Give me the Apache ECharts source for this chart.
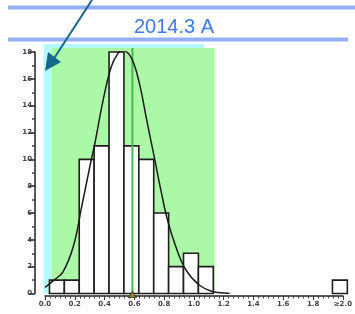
<!DOCTYPE html>
<html>
<head>
<meta charset="utf-8">
<script src="https://cdn.jsdelivr.net/npm/echarts@6/dist/echarts.min.js"></script>
<style>
  html, body { margin: 0; padding: 0; background: #fff; }
  #chart { width: 355px; height: 314px; }
</style>
</head>
<body>
<div id="chart"></div>
<script>
// histogram bins (left edges + last right edge) and counts
const binEdges = [0.03, 0.13, 0.23, 0.33, 0.43, 0.53, 0.63, 0.73, 0.83, 0.93, 1.03, 1.13]
const binCounts = [1, 1, 10, 11, 18, 11, 10, 6, 2, 3, 2]
// overflow bin drawn at the ">=2.0" end
const overflowEdges = [1.93, 2.03]
const overflowCount = 1

// fitted curve, points
const curveX = [0.0, 0.06, 0.12, 0.19, 0.245, 0.3, 0.335, 0.39, 0.445, 0.49, 0.522, 0.578, 0.633, 0.678, 0.733, 0.778, 0.822, 0.878, 0.944, 1.033, 1.12, 1.21, 1.24]
const curveY = [0.45, 1.0, 1.6, 3.5, 6.4, 9.4, 11.2, 14.4, 16.9, 17.9, 18.1, 17.6, 15.7, 13.2, 10.2, 7.7, 5.5, 3.5, 1.8, 0.65, 0.17, 0.03, 0]

const meanValue = 0.587
// shaded bands: [from, to, top]
const cyanBand = [-0.01, 1.067, 18.6]
const greenBand = [0.047, 1.14, 18.3]

const xTickLabels = ['0.0', '0.2', '0.4', '0.6', '0.8', '1.0', '1.2', '1.4', '1.6', '1.8', '≥2.0']
const yTickStep = 2

const chart = echarts.init(document.getElementById('chart'), null, { renderer: 'canvas' })

const bins = binCounts.map((c, i) => [binEdges[i], binEdges[i + 1], c])
bins.push([overflowEdges[0], overflowEdges[1], overflowCount])

const tickFont = { fontSize: 7, fontWeight: 'bold', fontFamily: 'DejaVu Sans', color: '#4a3b50' }

chart.setOption({
  animation: false,
  title: {
    text: '2014.3 A',
    left: 129,
    top: 12,
    textStyle: { color: '#3b7ae8', fontSize: 20, fontWeight: 'normal', fontFamily: 'Liberation Sans' }
  },
  graphic: [
    { type: 'line', shape: { x1: 8, y1: 7.5, x2: 355, y2: 7.5 }, style: { stroke: '#93b1f2', lineWidth: 4 } },
    { type: 'line', shape: { x1: 8, y1: 39.5, x2: 348, y2: 39.5 }, style: { stroke: '#93b1f2', lineWidth: 4 }, z: 10 },
    { type: 'line', shape: { x1: 92, y1: 0, x2: 53, y2: 60 }, style: { stroke: '#16698c', lineWidth: 2 }, z: 20 },
    { type: 'polygon', shape: { points: [[45, 71], [48, 52], [61, 62]] }, style: { fill: '#16698c' }, z: 20 }
  ],
  grid: { left: 45, right: 10, top: 52, bottom: 20.5 },
  xAxis: {
    type: 'value',
    min: 0,
    max: 2,
    interval: 0.2,
    offset: 2.5,
    splitLine: { show: false },
    axisLine: { onZero: false, lineStyle: { color: '#222', width: 1.5 } },
    axisTick: { length: 4, lineStyle: { color: '#333' } },
    minorTick: { show: true, splitNumber: 6, length: 2.5, lineStyle: { color: '#444' } },
    axisLabel: Object.assign({
      margin: 5,
      formatter: (v) => xTickLabels[Math.round(v / 0.2)]
    }, tickFont)
  },
  yAxis: {
    type: 'value',
    min: 0,
    max: 18,
    interval: yTickStep,
    offset: 10,
    splitLine: { show: false },
    axisLine: { show: true, onZero: false, lineStyle: { color: '#222', width: 1.5 } },
    axisTick: { length: 6, lineStyle: { color: '#222', width: 1.5 } },
    minorTick: { show: true, splitNumber: 2, length: 3, lineStyle: { color: '#444', width: 1.5 } },
    axisLabel: Object.assign({ margin: 3 }, tickFont)
  },
  series: [
    {
      name: 'bands',
      type: 'custom',
      z: 1,
      data: [cyanBand.concat(0), greenBand.concat(1)],
      renderItem: (params, api) => {
        const p0 = api.coord([api.value(0), api.value(2)])
        const p1 = api.coord([api.value(1), 0])
        return {
          type: 'rect',
          shape: { x: p0[0], y: p0[1], width: p1[0] - p0[0], height: p1[1] - p0[1] },
          style: { fill: api.value(3) === 0 ? '#b4f9fb' : '#abf8a7' }
        }
      }
    },
    {
      name: 'bins',
      type: 'custom',
      z: 3,
      data: bins,
      renderItem: (params, api) => {
        const p0 = api.coord([api.value(0), api.value(2)])
        const p1 = api.coord([api.value(1), 0])
        return {
          type: 'rect',
          shape: { x: p0[0], y: p0[1], width: p1[0] - p0[0], height: p1[1] - p0[1] },
          style: { fill: '#fff', stroke: '#1e1e1e', lineWidth: 1.6 }
        }
      }
    },
    {
      name: 'mean',
      type: 'custom',
      z: 4,
      data: [[meanValue, greenBand[2]]],
      renderItem: (params, api) => {
        const top = api.coord([api.value(0), api.value(1)])
        const bot = api.coord([api.value(0), 0])
        return {
          type: 'line',
          shape: { x1: top[0], y1: top[1], x2: bot[0], y2: bot[1] },
          style: { stroke: '#45b84a', lineWidth: 2 }
        }
      }
    },
    {
      name: 'curve',
      type: 'line',
      z: 5,
      smooth: 0.4,
      showSymbol: false,
      data: curveX.map((x, i) => [x, curveY[i]]),
      lineStyle: { color: '#1a1a1a', width: 1.5 }
    },
    {
      name: 'meanMarker',
      type: 'scatter',
      z: 6,
      symbol: 'triangle',
      symbolSize: [8, 6],
      symbolOffset: [0, 1],
      data: [[meanValue, 0]],
      itemStyle: { color: '#a08a10', borderColor: '#333', borderWidth: 1 }
    }
  ]
})
</script>
</body>
</html>
